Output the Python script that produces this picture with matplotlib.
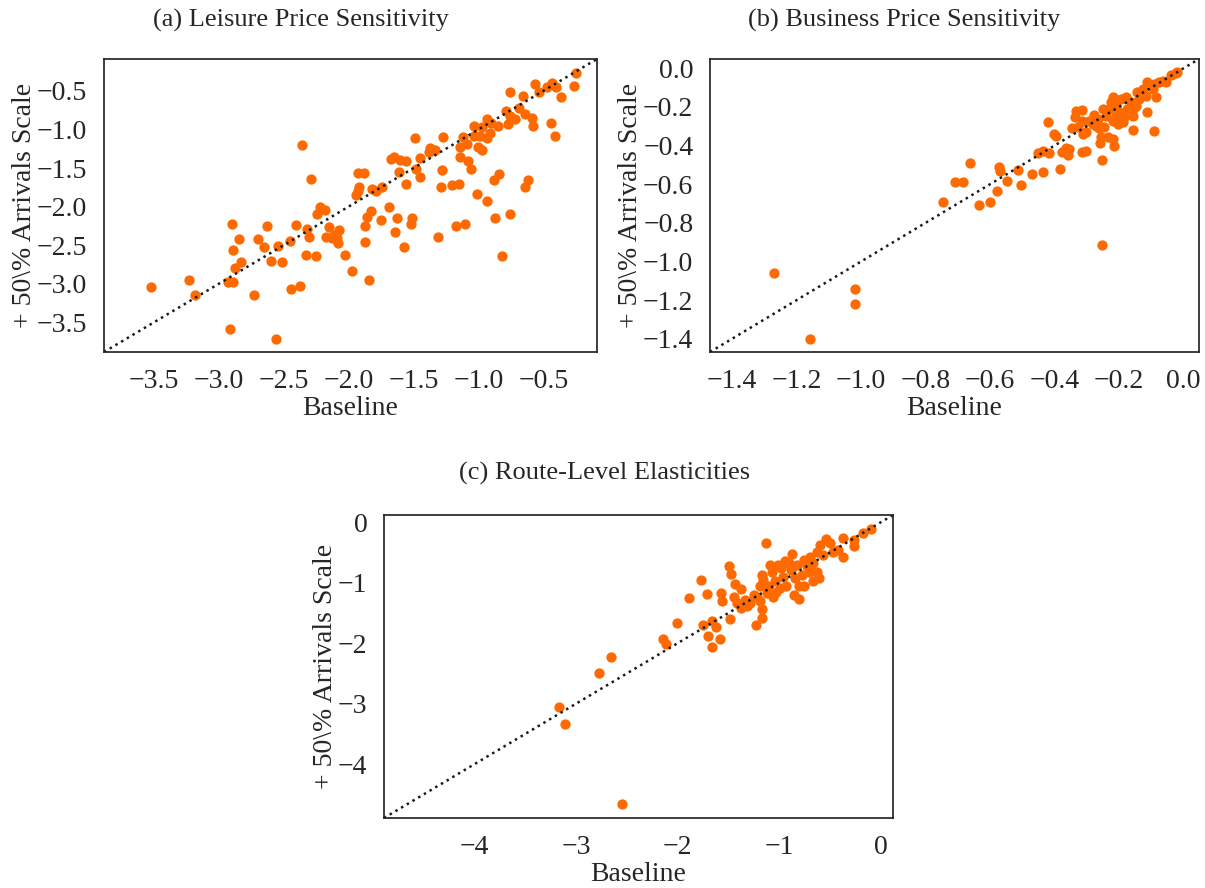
import numpy as np
import matplotlib
matplotlib.use("Agg")
import matplotlib.pyplot as plt
from matplotlib.ticker import MultipleLocator
import seaborn as sns

# (a) leisure price sensitivity: baseline vs +50% arrivals scale
leisure_base = [-0.25, -0.26, -0.43, -0.47, -0.40, -0.56, -0.53, -0.76, -0.66, -0.36,
                -0.79, -0.69, -0.64, -0.59, -0.72, -0.76, -0.77, -0.58, -0.44, -0.41,
                -0.93, -0.90, -0.85, -1.03, -0.97, -0.91, -1.03, -0.99, -0.93, -1.12,
                -1.09, -1.14, -1.00, -0.97, -1.27, -1.49, -1.37, -1.33, -1.38, -1.45,
                -1.65, -1.67, -1.60, -1.56, -1.14, -1.08, -1.06, -1.28, -1.48, -1.61,
                -1.45, -1.56, -1.29, -1.20, -1.15, -0.84, -0.88, -0.62, -0.64, -1.93,
                -1.88, -1.92, -1.93, -1.94, -1.82, -1.79, -1.74, -1.01, -0.93, -0.87,
                -0.76, -0.82, -1.69, -1.83, -1.86, -1.87, -1.75, -1.63, -1.51, -1.52,
                -1.64, -1.57, -1.87, -1.84, -1.17, -1.10, -1.31, -2.36, -2.29, -2.22,
                -2.18, -2.24, -2.32, -2.40, -2.30, -2.15, -2.07, -2.17, -2.11, -2.09,
                -2.08, -2.13, -2.63, -2.90, -2.84, -2.70, -2.65, -2.54, -2.45, -2.89,
                -2.33, -2.25, -2.03, -1.97, -2.60, -2.51, -2.83, -2.87, -2.93, -2.89,
                -3.23, -3.52, -3.18, -2.73, -2.44, -2.37, -2.91, -2.56]
leisure_scaled = [-0.27, -0.44, -0.40, -0.45, -0.45, -0.41, -0.51, -0.51, -0.56, -0.58,
                  -0.76, -0.72, -0.80, -0.85, -0.86, -0.83, -0.93, -0.95, -0.91, -1.09,
                  -0.86, -0.91, -0.96, -0.95, -0.97, -1.04, -1.08, -1.09, -1.11, -1.10,
                  -1.19, -1.23, -1.23, -1.26, -1.10, -1.11, -1.24, -1.26, -1.29, -1.37,
                  -1.35, -1.38, -1.39, -1.41, -1.36, -1.41, -1.51, -1.53, -1.51, -1.55,
                  -1.62, -1.70, -1.74, -1.72, -1.70, -1.57, -1.66, -1.66, -1.75, -1.56,
                  -1.56, -1.75, -1.80, -1.85, -1.77, -1.80, -1.75, -1.83, -1.92, -2.14,
                  -2.09, -2.64, -2.01, -2.05, -2.13, -2.25, -2.17, -2.15, -2.15, -2.23,
                  -2.33, -2.52, -2.46, -2.95, -2.25, -2.22, -2.39, -1.20, -1.64, -2.00,
                  -2.04, -2.10, -2.29, -2.24, -2.39, -2.26, -2.30, -2.39, -2.36, -2.41,
                  -2.47, -2.41, -2.25, -2.23, -2.42, -2.42, -2.52, -2.51, -2.45, -2.56,
                  -2.62, -2.64, -2.62, -2.83, -2.70, -2.72, -2.72, -2.80, -2.97, -2.97,
                  -2.95, -3.04, -3.14, -3.14, -3.06, -3.03, -3.58, -3.71]

# (b) business price sensitivity
business_base = [-1.27, -1.16, -1.02, -1.02, -0.254, -0.745, -0.709, -0.683, -0.661, -0.634,
                 -0.599, -0.578, -0.572, -0.570, -0.548, -0.514, -0.503, -0.469, -0.436, -0.452,
                 -0.436, -0.416, -0.419, -0.402, -0.395, -0.383, -0.378, -0.364, -0.354, -0.357,
                 -0.315, -0.302, -0.254, -0.258, -0.220, -0.215, -0.158, -0.091, -0.112,
                 -0.335, -0.316, -0.338, -0.347, -0.328, -0.313, -0.302, -0.315, -0.292, -0.277,
                 -0.266, -0.282, -0.261, -0.246, -0.241, -0.230, -0.220, -0.210, -0.199, -0.204,
                 -0.189, -0.184, -0.174, -0.179, -0.163, -0.158, -0.148, -0.220, -0.235, -0.256,
                 -0.210, -0.194, -0.137, -0.127, -0.117, -0.112, -0.096, -0.086, -0.091, -0.076,
                 -0.065, -0.055, -0.040, -0.024, -0.019, -0.249, -0.143, -0.225, -0.271, -0.158]
business_scaled = [-1.06, -1.40, -1.145, -1.219, -0.913, -0.690, -0.590, -0.590, -0.490, -0.707,
                   -0.692, -0.635, -0.510, -0.531, -0.586, -0.527, -0.605, -0.545, -0.538, -0.441,
                   -0.427, -0.439, -0.277, -0.341, -0.353, -0.522, -0.431, -0.413, -0.418, -0.450,
                   -0.436, -0.429, -0.474, -0.387, -0.367, -0.401, -0.318, -0.327, -0.225,
                   -0.220, -0.216, -0.251, -0.310, -0.306, -0.341, -0.332, -0.272, -0.272, -0.242,
                   -0.263, -0.289, -0.311, -0.306, -0.246, -0.211, -0.150, -0.194, -0.228, -0.289,
                   -0.280, -0.254, -0.211, -0.150, -0.176, -0.211, -0.194, -0.272, -0.358, -0.358,
                   -0.246, -0.159, -0.159, -0.107, -0.142, -0.073, -0.107, -0.150, -0.081, -0.073,
                   -0.064, -0.073, -0.035, -0.026, -0.021, -0.211, -0.124, -0.176, -0.297, -0.246]

# (c) route-level elasticities
route_base = [-2.55, -3.17, -3.11, -2.77, -2.66, -2.14, -2.11, -2.01, -1.89, -1.77,
              -1.71, -1.75, -1.66, -1.62, -1.70, -1.58, -1.66, -1.57, -1.56, -1.50,
              -1.48, -1.49, -1.44, -1.38, -1.45, -1.42, -1.38, -1.34, -1.29, -1.25,
              -1.23, -1.17, -1.17, -1.19, -1.17, -1.19, -1.13, -1.12, -1.09, -1.07,
              -1.04, -1.03, -0.99, -0.98, -0.94, -0.96, -0.93, -0.89, -0.88, -0.86,
              -0.81, -0.85, -0.83, -0.78, -0.76, -0.73, -0.70, -0.67, -0.67, -0.61,
              -0.63, -0.71, -0.63, -0.60, -0.54, -0.50, -0.57, -0.47, -0.42, -0.37,
              -0.37, -0.27, -0.27, -0.18, -0.10, -1.16, -1.11, -1.06, -1.32, -1.22,
              -0.81, -0.76, -0.70, -0.91, -1.01]
route_scaled = [-4.66, -3.06, -3.33, -2.50, -2.22, -1.93, -2.01, -1.67, -1.26, -0.95,
                -1.19, -1.70, -1.64, -1.73, -1.88, -1.93, -2.06, -1.17, -1.31, -0.72,
                -0.85, -1.60, -1.02, -1.10, -1.24, -1.34, -1.42, -1.28, -1.34, -1.20,
                -1.70, -1.59, -1.44, -1.31, -0.87, -1.06, -0.34, -1.17, -0.71, -0.82,
                -0.98, -1.15, -1.09, -0.76, -0.65, -0.90, -1.06, -0.79, -0.53, -1.20,
                -1.27, -0.93, -0.71, -0.87, -0.62, -0.73, -0.57, -0.68, -0.98, -0.93,
                -0.82, -0.82, -0.49, -0.38, -0.28, -0.35, -0.54, -0.49, -0.46, -0.58,
                -0.27, -0.30, -0.39, -0.18, -0.11, -0.95, -1.06, -1.23, -1.39, -1.23,
                -1.06, -1.06, -0.76, -0.68, -0.71]

titles = ["(a) Leisure Price Sensitivity", "(b) Business Price Sensitivity",
          "(c) Route-Level Elasticities"]
tick_steps = [0.5, 0.2, 1.0]

sns.set_theme(style="white", font_scale=1.6)
plt.rcParams["font.family"] = ["Liberation Serif", "DejaVu Serif"]
plt.rcParams["axes.unicode_minus"] = True

fig = plt.figure(figsize=(12.05, 8.88), dpi=100)
W, H = 1205.0, 888.0

def box(l, t, r, b):
    return [l / W, 1 - b / H, (r - l) / W, (b - t) / H]

axes = [fig.add_axes(box(104, 59, 597, 352)),
        fig.add_axes(box(710, 59, 1199, 352)),
        fig.add_axes(box(384, 515, 893, 818))]
datasets = [(leisure_base, leisure_scaled), (business_base, business_scaled),
            (route_base, route_scaled)]

orange = "#ff6a00"
for ax, (xb, ys), step in zip(axes, datasets, tick_steps):
    ax.scatter(xb, ys, s=55, color=orange, linewidths=0)
    # 45-degree reference line over the shared range of both axes
    lims = [np.min([ax.get_xlim(), ax.get_ylim()]), np.max([ax.get_xlim(), ax.get_ylim()])]
    ax.plot(lims, lims, "k:", lw=1.8)
    ax.set_xlim(lims)
    ax.set_ylim(lims)
    ax.xaxis.set_major_locator(MultipleLocator(step))
    ax.yaxis.set_major_locator(MultipleLocator(step))
    ax.tick_params(labelsize=20, pad=6)
    ax.set_xlabel("Baseline", labelpad=2, fontsize=20)
    ax.set_ylabel("+ 50\\% Arrivals Scale", fontsize=20, labelpad=0)

fig.text(301 / W, 1 - 20 / H, titles[0], ha="center", va="center", fontsize=19)
fig.text(904 / W, 1 - 20 / H, titles[1], ha="center", va="center", fontsize=19)
fig.text(605 / W, 1 - 473 / H, titles[2], ha="center", va="center", fontsize=19)

fig.savefig("out.png", dpi=100)
